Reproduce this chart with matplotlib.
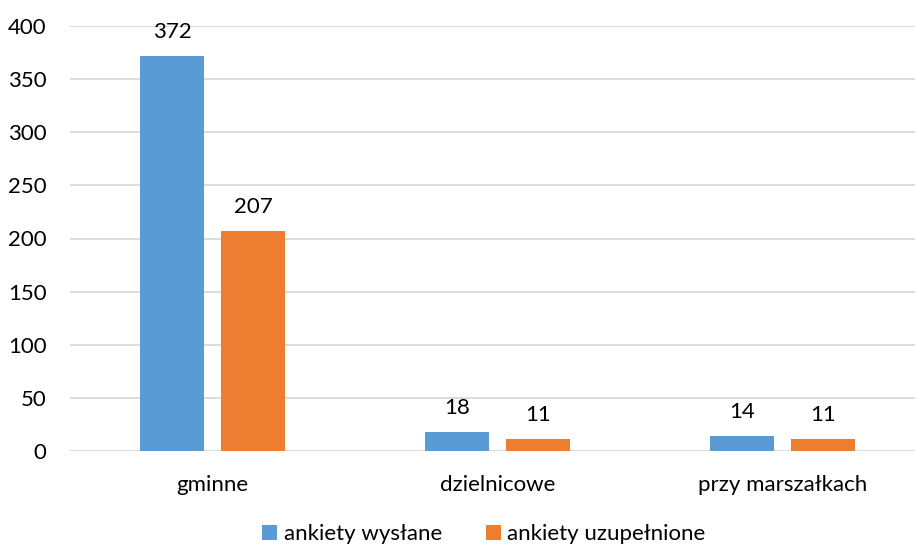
import numpy as np
from matplotlib import pyplot as plt

plt.rcParams['font.family'] = ['Lato', 'DejaVu Sans']

categories = ["gminne", "dzielnicowe", "przy marszałkach"]
sent = [372, 18, 14]
filled = [207, 11, 11]
series_names = ["ankiety wysłane", "ankiety uzupełnione"]

blue = "#5B9BD5"
orange = "#ED7D31"
fs = 16

fig = plt.figure(figsize=(9.15, 5.45), dpi=100)
# plot area runs past the right edge, as in the reference crop
ax = fig.add_axes([70 / 915, 94 / 545, 855 / 915, 425 / 545])

x = np.arange(len(categories))
w = 0.2246
off = 0.142
b1 = ax.bar(x - off, sent, w, color=blue, label=series_names[0], zorder=3)
b2 = ax.bar(x + off, filled, w, color=orange, label=series_names[1], zorder=3)

for bars in (b1, b2):
    for r in bars:
        ax.annotate(str(int(r.get_height())), (r.get_x() + r.get_width() / 2, r.get_height()),
                    xytext=(0, 10), textcoords="offset points", ha="center", va="bottom",
                    fontsize=fs, color="#000000")

ax.set_xlim(-0.5, 2.5)
ax.set_ylim(0, 400)
ax.set_yticks(range(0, 401, 50))
ax.set_xticks(x)
ax.set_xticklabels(categories)
ax.yaxis.grid(True, color="#D9D9D9", linewidth=1.3, zorder=0)
for s in ax.spines.values():
    s.set_visible(False)
ax.tick_params(length=0, labelsize=fs, labelcolor="#000000")
ax.tick_params(axis="x", pad=17)
ax.tick_params(axis="y", pad=17)

fig.legend(loc="center", bbox_to_anchor=(484 / 915, 11 / 545), ncol=2, frameon=False,
           fontsize=fs, handlelength=0.65, handleheight=0.65, handletextpad=0.3,
           columnspacing=2.0)

fig.savefig("out.png", dpi=100)
